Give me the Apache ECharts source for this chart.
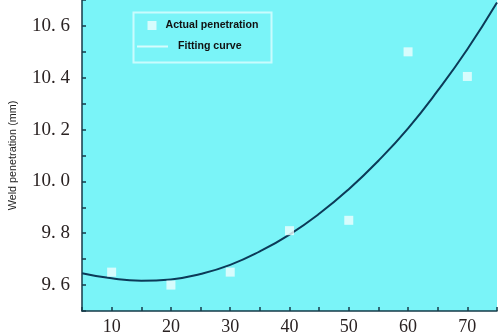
<!DOCTYPE html>
<html>
<head>
<meta charset="utf-8">
<script src="https://cdn.jsdelivr.net/npm/echarts@6/dist/echarts.min.js"></script>
<style>html,body{margin:0;padding:0;background:#fff}#c{width:500px;height:336px}</style>
</head>
<body>
<div id="c"></div>
<script>
// Measured points
const pointX = [10, 20, 30, 40, 50, 60, 70];
const actualPenetration = [9.65, 9.60, 9.65, 9.81, 9.85, 10.50, 10.405];
// Fitting curve
const curveX = [5, 10, 15, 20, 25, 30, 35, 40, 45, 50, 55, 60, 65, 70, 75];
const fittingCurve = [9.646, 9.626, 9.617, 9.622, 9.643, 9.678, 9.73, 9.795, 9.875, 9.97, 10.08, 10.205, 10.35, 10.51, 10.69];
const seriesNames = ['Actual penetration', 'Fitting curve'];
const yAxisName = 'Weld penetration (mm)';

const chart = echarts.init(document.getElementById('c'), null, {renderer: 'canvas'});
const axisColor = '#163a48';
const legendText = {fontFamily: 'Arial, Liberation Sans', fontSize: 10.6, fontWeight: 'bold', color: '#111', lineHeight: 14};
chart.setOption({
  animation: false,
  backgroundColor: '#ffffff',
  grid: {left: 78, right: 0, top: 0, bottom: 23, show: true, backgroundColor: '#7af4f8', borderWidth: 0},
  graphic: [{
    type: 'rect', left: 131, top: 10, z: 10, silent: true,
    shape: {width: 138, height: 50},
    style: {fill: null, stroke: '#c9fbfd', lineWidth: 2}
  }],
  legend: [
    {
      left: 147.5, top: 20, padding: 0, selectedMode: false,
      itemWidth: 9, itemHeight: 9,
      data: [{name: seriesNames[0], icon: 'path://M0,0h10v10h-10z', itemStyle: {color: '#effefe'}}],
      formatter: n => '{a|' + n + '}',
      textStyle: {rich: {a: Object.assign({padding: [0, 0, 0, 4]}, legendText)}}
    },
    {
      left: 137, top: 41, padding: 0, selectedMode: false,
      itemWidth: 31, itemHeight: 9,
      data: [{name: seriesNames[1], icon: 'path://M0,0h31v2h-31z', itemStyle: {color: '#d6fcfd'}}],
      formatter: n => '{a|' + n + '}',
      textStyle: {rich: {a: Object.assign({padding: [0, 0, 0, 5]}, legendText)}}
    }
  ],
  xAxis: {
    type: 'value', min: 5, max: 75, interval: 5,
    axisLine: {show: true, onZero: false, lineStyle: {color: axisColor, width: 1.5}},
    axisTick: {show: true, inside: true, length: 4, lineStyle: {color: axisColor, width: 1.5}},
    splitLine: {show: false},
    axisLabel: {
      margin: 7, fontFamily: 'Liberation Serif, Times New Roman, serif', fontSize: 18, color: '#2a2222',
      formatter: v => (Math.round(v) % 10 === 0 && v > 5 && v < 75) ? String(Math.round(v)) : ''
    }
  },
  yAxis: {
    type: 'value', min: 9.5, max: 10.7, interval: 0.1,
    name: yAxisName, nameLocation: 'middle', nameGap: 63, nameRotate: 90,
    nameTextStyle: {fontFamily: 'Arial, Liberation Sans', fontSize: 10.8, color: '#222'},
    axisLine: {show: true, onZero: false, lineStyle: {color: axisColor, width: 1.5}},
    axisTick: {show: true, inside: true, length: 4, lineStyle: {color: axisColor, width: 1.5}},
    splitLine: {show: false},
    axisLabel: {
      margin: 12, fontFamily: 'Liberation Serif, Times New Roman, serif', fontSize: 19, color: '#2a2222',
      formatter: v => {
        const t = Math.round(v * 10);
        if (t % 2 !== 0 || t === 107) return '';
        return (t / 10).toFixed(1).replace('.', '. ');
      }
    }
  },
  series: [
    {
      name: seriesNames[0], type: 'scatter', symbol: 'rect', symbolSize: 9,
      itemStyle: {color: '#effefe'},
      data: pointX.map((x, i) => [x, actualPenetration[i]]), z: 3
    },
    {
      name: seriesNames[1], type: 'line', smooth: true, symbol: 'none', showSymbol: false,
      lineStyle: {color: '#0c3a58', width: 2},
      data: curveX.map((x, i) => [x, fittingCurve[i]]), z: 2
    }
  ]
});
</script>
</body>
</html>
